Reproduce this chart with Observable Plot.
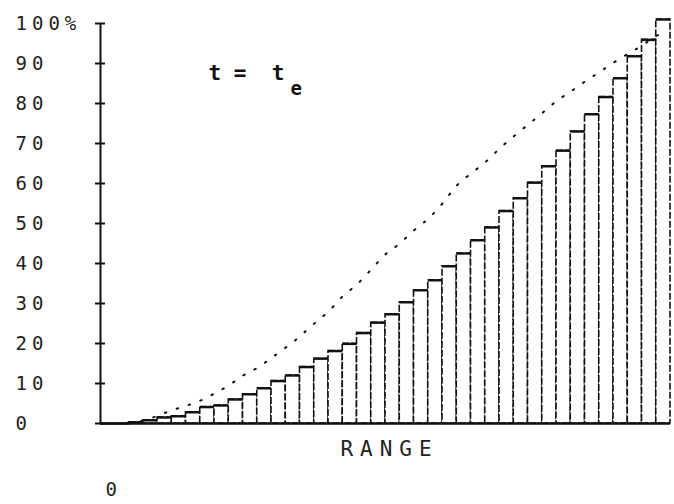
<!DOCTYPE html>
<html><head><meta charset="utf-8">
<script src="https://cdn.jsdelivr.net/npm/d3@7"></script>
<script src="https://cdn.jsdelivr.net/npm/@observablehq/plot@0.6"></script>
<style>
html,body{margin:0;padding:0;background:#fff;}
svg text{white-space:pre;}
</style>
</head><body><div id="chart"></div>
<script>
// bin index (range bins) and cumulative percentage per bin
const binIndex = [0,1,2,3,4,5,6,7,8,9,10,11,12,13,14,15,16,17,18,19,20,21,22,23,24,25,26,27,28,29,30,31,32,33,34,35,36,37,38,39];
const binValues = [0,0,0.3,0.8,1.5,1.8,2.8,4.1,4.5,6.0,7.3,8.8,10.6,12.0,14.1,16.2,18.1,19.9,22.6,25.2,27.3,30.3,33.3,35.8,39.3,42.5,45.8,49.0,53.1,56.3,60.2,64.3,68.2,73.0,77.3,81.6,86.3,91.8,95.9,101];
// dotted reference curve
const curveX = [2,3,4,5,6,7,8,9,10,11,12,13,14,15,16,17,18,19,20,21,22,23,24,25,26,27,28,29,30,31,32,33,34,35,36,37,38,39,39.6];
const curveY = [0,0.8,1.9,3.3,4.4,5.7,7.5,9.5,12,13.9,16.4,19,21.8,25,28,31.8,34.8,38.5,42.3,45,48.3,51.2,55,59.5,62.5,65.3,68.7,71.8,74.7,77.6,80.6,83,85.5,87.8,90.2,92.4,94.5,96.9,97.8];
// axis ticks and labels
const yTicks = [0,10,20,30,40,50,60,70,80,90,100];
const yTickLabels = ["0","10","20","30","40","50","60","70","80","90","100%"];
const xLabel = "RANGE";
const xStartLabel = "0";
const annotation = "t =  t";
const annotationSub = "e";

const bars = binIndex.map((b, i) => ({x1: b, x2: b + 1, y: binValues[i]}));
const curve = curveX.map((x, i) => ({x, y: curveY[i]}));

const ink = "#111";
const labelFont = {fontFamily: "DejaVu Sans Mono", fontSize: 19, fill: "#222"};

const chart = Plot.plot({
  width: 674,
  height: 504,
  marginLeft: 100,
  marginRight: 4,
  marginTop: 23,
  marginBottom: 81,
  x: {domain: [0, 40], axis: null},
  y: {domain: [0, 100], axis: null},
  style: {background: "#fff", overflow: "visible"},
  marks: [
    Plot.rectY(bars, {x1: "x1", x2: "x2", y: "y", fill: "white", stroke: ink, strokeWidth: 1.6, strokeDasharray: "7 2"}),
    Plot.ruleY(bars, {x1: "x1", x2: "x2", y: "y", stroke: ink, strokeWidth: 2.4}),
    Plot.line(curve, {x: "x", y: "y", curve: "catmull-rom", stroke: ink, strokeWidth: 2, strokeDasharray: "1.5 11", strokeLinecap: "round"}),
    Plot.ruleY([0], {stroke: ink, strokeWidth: 2.4}),
    Plot.ruleX([0], {y1: 0, y2: 100, stroke: ink, strokeWidth: 2}),
    Plot.axisY(yTicks, {tickSize: 10, dx: 5, tickFormat: () => "", label: null, stroke: ink, strokeWidth: 2}),
    Plot.text(yTicks, {y: d => d, text: (d, i) => yTickLabels[i], frameAnchor: "left", dx: -85, textAnchor: "start", ...labelFont}),
    Plot.text([xLabel], {text: d => d, frameAnchor: "bottom", dy: 32, dx: 4, ...labelFont, fontSize: 21}),
    Plot.text([xStartLabel], {text: d => d, frameAnchor: "bottom-left", dx: 5, dy: 72, ...labelFont}),
    Plot.text([annotation], {text: d => d, frameAnchor: "top-left", textAnchor: "start", dx: 108, dy: 42, fontFamily: "DejaVu Sans Mono", fontWeight: "bold", fontSize: 21, fill: ink}),
    Plot.text([annotationSub], {text: d => d, frameAnchor: "top-left", textAnchor: "start", dx: 190, dy: 58, fontFamily: "DejaVu Sans Mono", fontWeight: "bold", fontSize: 19, fill: ink})
  ]
});
d3.select(chart).selectAll("text")
  .filter(function () { return yTickLabels.includes(this.textContent); })
  .attr("letter-spacing", 5);
d3.select(chart).selectAll("text")
  .filter(function () { return this.textContent === xLabel; })
  .attr("letter-spacing", 7);
document.getElementById("chart").append(chart);
</script>
</body></html>
